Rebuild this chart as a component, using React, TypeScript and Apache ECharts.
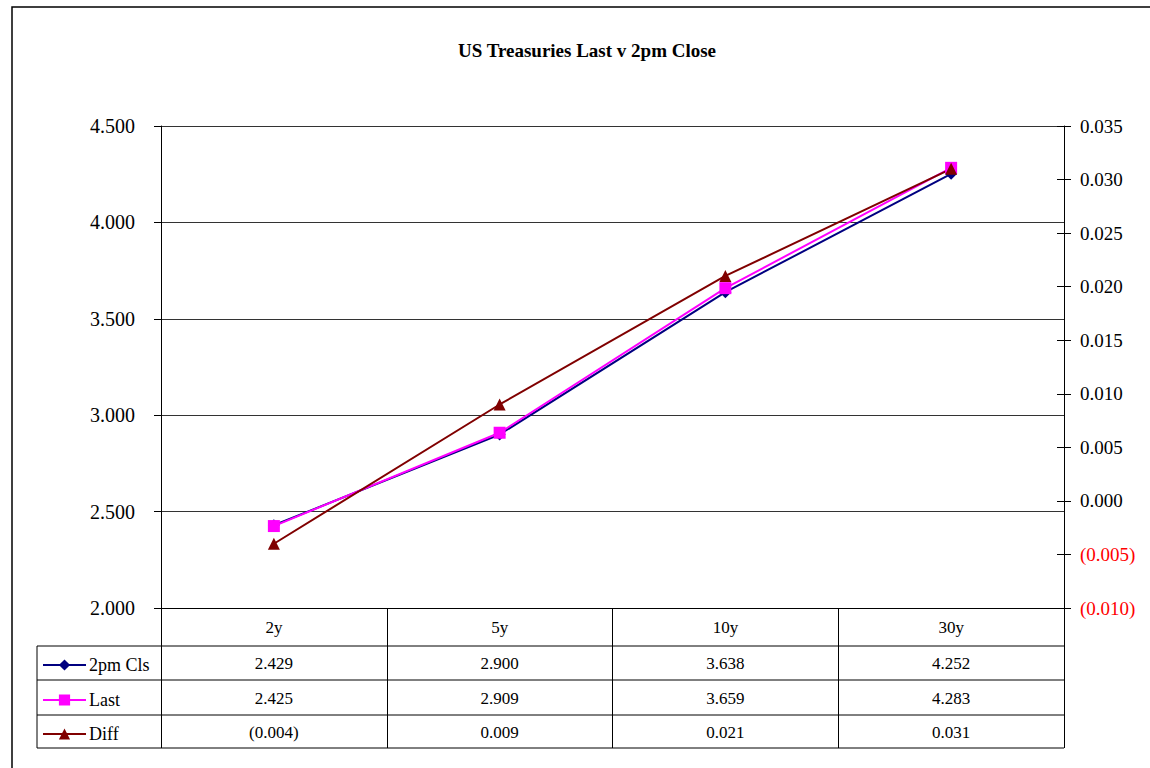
import React, { useEffect, useRef } from "react";
import * as echarts from "echarts";

const categories = ["2y", "5y", "10y", "30y"];
const close2pm = [2.429, 2.9, 3.638, 4.252];
const last = [2.425, 2.909, 3.659, 4.283];
const diff = [-0.004, 0.009, 0.021, 0.031];
const seriesNames = ["2pm Cls", "Last", "Diff"];

const FONT = "'Liberation Serif', 'DejaVu Serif', serif";

function fmt(v: number): string {
  if (Math.abs(v) < 1e-9) return "0.000";
  return v < 0 ? `(${Math.abs(v).toFixed(3)})` : v.toFixed(3);
}

export default function App() {
  const ref = useRef<HTMLDivElement>(null);
  useEffect(() => {
    if (!ref.current) return;
    const chart = echarts.init(ref.current, undefined, { renderer: "svg" });
    const grid = { left: 161, right: 86, top: 126, bottom: 160 };
    const rowLines = [646, 680, 715, 748];
    const legendTops = [656, 691, 725];
    const tableX = (offset: number, data: string[]) => ({
      type: "category",
      data,
      position: "bottom",
      offset,
      boundaryGap: true,
      axisLine: { show: false, onZero: false },
      axisTick: { show: false },
      splitLine: { show: false },
      axisLabel: {
        interval: 0,
        margin: 19,
        verticalAlign: "middle",
        color: "#000",
        fontFamily: FONT,
        fontSize: 17,
      },
    });
    const option: any = {
      animation: false,
      backgroundColor: "#fff",
      grid,
      legend: seriesNames.map((name, i) => ({
        orient: "vertical",
        left: 42,
        top: legendTops[i],
        padding: 0,
        itemWidth: 43,
        itemHeight: 14,
        data: [name],
        textStyle: {
          fontFamily: FONT,
          fontSize: 18,
          color: "#000",
          lineHeight: 14,
          padding: [0, 0, 0, -2],
        },
        selectedMode: false,
      })),
      xAxis: [
        {
          type: "category",
          data: categories,
          position: "bottom",
          boundaryGap: true,
          axisLine: { show: true, onZero: false, lineStyle: { color: "#000", width: 1 } },
          axisTick: {
            show: true,
            interval: 0,
            alignWithLabel: false,
            length: 140,
            lineStyle: { color: "#000", width: 1 },
          },
          axisLabel: {
            interval: 0,
            margin: 19,
            verticalAlign: "middle",
            color: "#000",
            fontFamily: FONT,
            fontSize: 17,
          },
        },
        tableX(36, close2pm.map(fmt)),
        tableX(71, last.map(fmt)),
        tableX(105, diff.map(fmt)),
      ],
      yAxis: [
        {
          type: "value",
          position: "left",
          min: 2,
          max: 4.5,
          interval: 0.5,
          axisLine: { show: true, lineStyle: { color: "#000", width: 1 } },
          axisTick: { show: true, length: 7, lineStyle: { color: "#000" } },
          splitLine: { show: true, lineStyle: { color: "#333", width: 1 } },
          axisLabel: {
            margin: 26,
            color: "#000",
            fontFamily: FONT,
            fontSize: 20,
            formatter: (v: number) => v.toFixed(3),
          },
        },
        {
          type: "value",
          position: "right",
          min: -0.01,
          max: 0.035,
          interval: 0.005,
          axisLine: { show: true, lineStyle: { color: "#000", width: 1 } },
          axisTick: { show: true, length: 7, lineStyle: { color: "#000" } },
          splitLine: { show: false },
          axisLabel: {
            margin: 16,
            fontFamily: FONT,
            fontSize: 19,
            formatter: (v: number) => fmt(v),
            color: (v: any) => (Number(v) < -1e-9 ? "#ff0000" : "#000"),
          },
        },
        {
          type: "value",
          position: "right",
          min: -0.01,
          max: 0.035,
          interval: 0.005,
          axisLine: { show: false },
          axisTick: { show: true, inside: true, length: 7, lineStyle: { color: "#000" } },
          splitLine: { show: false },
          axisLabel: { show: false },
        },
      ],
      series: [
        {
          name: seriesNames[0],
          type: "line",
          data: close2pm,
          xAxisIndex: 0,
          yAxisIndex: 0,
          symbol: "diamond",
          symbolSize: 12,
          itemStyle: { color: "#000080" },
          lineStyle: { color: "#000080", width: 2 },
        },
        {
          name: seriesNames[1],
          type: "line",
          data: last,
          xAxisIndex: 0,
          yAxisIndex: 0,
          symbol: "rect",
          symbolSize: 12,
          itemStyle: { color: "#ff00ff" },
          lineStyle: { color: "#ff00ff", width: 2 },
        },
        {
          name: seriesNames[2],
          type: "line",
          data: diff,
          xAxisIndex: 0,
          yAxisIndex: 1,
          symbol: "triangle",
          symbolSize: 12,
          itemStyle: { color: "#800000" },
          lineStyle: { color: "#800000", width: 2 },
        },
      ],
      graphic: [
        {
          type: "rect",
          shape: { x: 12, y: 7, width: 1300, height: 900 },
          style: { fill: "none", stroke: "#000", lineWidth: 1.5 },
          silent: true,
          z: -1,
        },
        {
          type: "text",
          x: 587,
          y: 50,
          style: {
            text: "US Treasuries Last v 2pm Close",
            fontFamily: FONT,
            fontWeight: "bold",
            fontSize: 19,
            fill: "#000",
            textAlign: "center",
            textVerticalAlign: "middle",
          },
        },
        ...rowLines.map((y) => ({
          type: "line",
          shape: { x1: 37, y1: y, x2: 1064, y2: y },
          style: { stroke: "#000", lineWidth: 1 },
          silent: true,
        })),
        {
          type: "line",
          shape: { x1: 37, y1: 646, x2: 37, y2: 748 },
          style: { stroke: "#000", lineWidth: 1 },
          silent: true,
        },
      ],
    };
    chart.setOption(option);
    return () => chart.dispose();
  }, []);
  return (
    <div
      ref={ref}
      style={{ position: "absolute", left: 0, top: 0, width: 1150, height: 768 }}
    />
  );
}
